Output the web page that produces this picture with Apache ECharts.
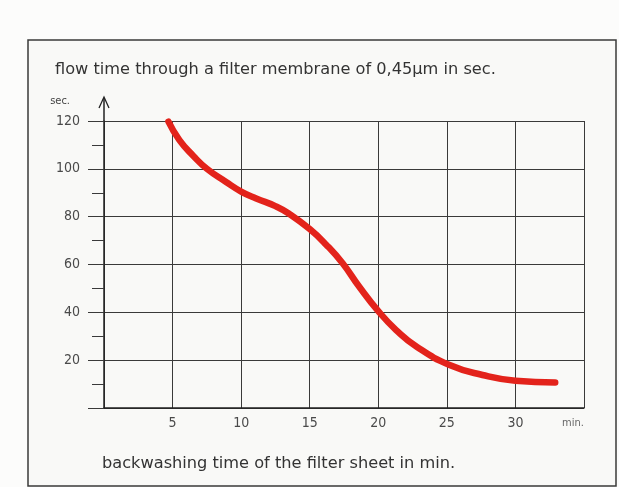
<!DOCTYPE html>
<html>
<head>
<meta charset="utf-8">
<script src="https://cdn.jsdelivr.net/npm/echarts@6/dist/echarts.min.js"></script>
<style>
html,body{margin:0;padding:0;background:#fcfcfb;}
#c{width:619px;height:487px;}
</style>
</head>
<body>
<div id="c"></div>
<script>
// Data
var backwashMinutes = [4.7, 5.5, 6.5, 7.5, 8.9, 10.0, 11.1, 12.5, 13.5, 15.0, 16.2, 17.4, 18.6, 20.0, 21.3, 22.8, 25.2, 27.6, 30.0, 32.9];
var flowSeconds     = [119.7, 112, 105.5, 100, 94.5, 90.5, 87.6, 84.4, 81.2, 74.8, 68.3, 60.5, 50.8, 40.5, 32.6, 25.6, 18, 13.8, 11.4, 10.7];
var xTickLabels = ['5', '10', '15', '20', '25', '30'];
var yTickLabels = ['20', '40', '60', '80', '100', '120'];
var titleText = 'flow time through a filter membrane of 0,45\u00b5m in sec.';
var xAxisTitle = 'backwashing time of the filter sheet in min.';
var xUnit = 'min.';
var yUnit = 'sec.';

var numFont = '"Liberation Sans Narrow","DejaVu Sans Condensed","Roboto","Liberation Sans",sans-serif';
var txtFont = '"DejaVu Sans","Liberation Sans",sans-serif';

var pts = backwashMinutes.map(function (x, i) { return [x, flowSeconds[i]]; });

var chart = echarts.init(document.getElementById('c'), null, {renderer: 'canvas'});
var gridColor = '#3a3a3a';
chart.setOption({
  backgroundColor: 'transparent',
  animation: false,
  grid: {left: 104, right: 35, top: 121, bottom: 79},
  xAxis: {
    type: 'value', min: 0, max: 35, interval: 5,
    axisLine: {show: true, lineStyle: {color: '#222', width: 1.5}},
    axisTick: {show: false},
    splitLine: {show: true, lineStyle: {color: gridColor, width: 1}},
    axisLabel: {
      margin: 8, color: '#4a4a4a', fontSize: 14, fontFamily: numFont,
      formatter: function (v) { var s = String(v); return xTickLabels.indexOf(s) >= 0 ? s : ''; }
    }
  },
  yAxis: {
    type: 'value', min: 0, max: 120, interval: 20,
    axisLine: {show: true, onZero: false, lineStyle: {color: '#222', width: 1.5}},
    axisTick: {show: true, length: 16, lineStyle: {color: gridColor, width: 1}},
    minorTick: {show: true, splitNumber: 2, length: 12, lineStyle: {color: gridColor, width: 1}},
    splitLine: {show: true, lineStyle: {color: gridColor, width: 1}},
    axisLabel: {
      margin: 24, color: '#4a4a4a', fontSize: 14, fontFamily: numFont,
      formatter: function (v) { var s = String(v); return yTickLabels.indexOf(s) >= 0 ? s : ''; }
    }
  },
  series: [{
    type: 'line',
    data: pts,
    smooth: 0.5,
    showSymbol: false,
    symbol: 'none',
    lineStyle: {color: '#e3231b', width: 6.5, cap: 'round', join: 'round'}
  }]
});

// decorations positioned from the axes
var axisTop = chart.convertToPixel({xAxisIndex: 0, yAxisIndex: 0}, [0, 120]);
var axisEnd = chart.convertToPixel({xAxisIndex: 0, yAxisIndex: 0}, [35, 0]);
chart.setOption({
  graphic: [
    {type: 'rect', z: -10, shape: {x: 28, y: 40, width: 588, height: 446},
     style: {fill: '#f9f9f7', stroke: '#3a3a3a', lineWidth: 1.5}},
    {type: 'text', left: 55, top: 62, style: {text: titleText, fill: '#333', font: '16.2px ' + txtFont}},
    {type: 'text', left: 102, top: 456, style: {text: xAxisTitle, fill: '#333', font: '16.2px ' + txtFont}},
    {type: 'line', shape: {x1: axisTop[0], y1: axisTop[1], x2: axisTop[0], y2: axisTop[1] - 23},
     style: {stroke: '#222', lineWidth: 1.5}},
    {type: 'polyline', shape: {points: [[axisTop[0] - 5, axisTop[1] - 13], [axisTop[0], axisTop[1] - 24], [axisTop[0] + 5, axisTop[1] - 13]]},
     style: {stroke: '#222', lineWidth: 1.3, fill: null}},
    {type: 'text', x: axisTop[0] - 34, y: axisTop[1] - 20, style: {text: yUnit, fill: '#444', font: '11px ' + numFont, align: 'right', verticalAlign: 'middle'}},
    {type: 'text', x: axisEnd[0] - 11, y: axisEnd[1] + 15, style: {text: xUnit, fill: '#666', font: '11px ' + numFont, align: 'center', verticalAlign: 'middle'}}
  ]
});
</script>
</body>
</html>
